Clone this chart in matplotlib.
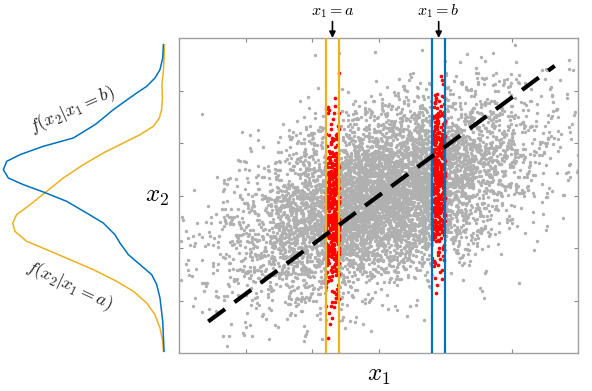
import numpy as np
import matplotlib
matplotlib.use("Agg")
import matplotlib.pyplot as plt

plt.rcParams['mathtext.fontset'] = 'cm'

# ---- data ----
# bivariate cloud summary: mean, std, correlation, count
cloud_mean = [0.05, 0.0]
cloud_std = [1.05, 0.91]
cloud_rho = 0.47
cloud_n = 7000

# bands x1 = a and x1 = b (x-ranges of the vertical strips)
band_a = [-0.79, -0.595]
band_b = [0.81, 1.00]

# dashed line endpoints (x1, x2)
line_x = [-2.56, 2.65]
line_y = [-2.40, 2.47]

# conditional densities (left panel): x2 position and relative density
blue_y = [2.873, 2.619, 2.397, 2.238, 2.079, 1.952, 1.794, 1.635, 1.476, 1.349,
          1.095, 0.937, 0.778, 0.651, 0.492, 0.333, 0.206, 0.067, -0.111,
          -0.333, -0.524, -0.746, -0.905, -1.127, -1.317, -1.508, -1.698,
          -1.952, -2.397, -2.968]
blue_d = [0.010, 0.014, 0.031, 0.062, 0.113, 0.175, 0.247, 0.319, 0.381, 0.432,
          0.566, 0.751, 0.895, 0.977, 0.998, 0.967, 0.874, 0.751, 0.607,
          0.484, 0.381, 0.309, 0.278, 0.226, 0.154, 0.082, 0.051,
          0.031, 0.014, 0.006]
orange_y = [2.873, 2.619, 2.365, 2.111, 1.857, 1.635, 1.476, 1.317, 1.159, 1.0,
            0.810, 0.587, 0.333, 0.079, -0.175, -0.365, -0.524, -0.683, -0.873,
            -1.032, -1.222, -1.413, -1.635, -1.825, -2.048, -2.270, -2.524,
            -2.778, -2.968]
orange_d = [0.0, 0.006, 0.010, 0.019, 0.016, 0.021, 0.035, 0.072, 0.154, 0.257,
            0.381, 0.504, 0.628, 0.730, 0.833, 0.916, 0.940, 0.926, 0.854,
            0.730, 0.586, 0.442, 0.298, 0.195, 0.113, 0.062, 0.031,
            0.014, 0.010]

ORANGE = '#EDB120'
BLUE = '#0072BD'
GRAY = '#B0B0B0'

# ---- sample the cloud ----
rng = np.random.default_rng(7)
cov = [[cloud_std[0] ** 2, cloud_rho * cloud_std[0] * cloud_std[1]],
       [cloud_rho * cloud_std[0] * cloud_std[1], cloud_std[1] ** 2]]
pts = rng.multivariate_normal(cloud_mean, cov, size=cloud_n)
px, py = pts[:, 0], pts[:, 1]
in_a = (px > band_a[0]) & (px < band_a[1])
in_b = (px > band_b[0]) & (px < band_b[1])
in_band = in_a | in_b

fig = plt.figure(figsize=(5.92, 3.91), dpi=100)
ax = fig.add_axes([179 / 592, 1 - 353 / 391, 399 / 592, 315 / 391])
ax.set_xlim(-3, 3)
ax.set_ylim(-3, 3)

ax.scatter(px[~in_band], py[~in_band], s=6, c=GRAY, linewidths=0, zorder=1)
ax.scatter(px[in_band], py[in_band], s=7, c='#FF0000', linewidths=0, zorder=2)

for xv in band_a:
    ax.axvline(xv, color=ORANGE, lw=1.6, zorder=3)
for xv in band_b:
    ax.axvline(xv, color=BLUE, lw=1.6, zorder=3)

dl, = ax.plot(line_x, line_y, color='black', lw=3, zorder=4,
              solid_capstyle='butt', dash_capstyle='butt')
dl.set_dashes((5, 2.8))

ax.set_xticks([-2, -1, 0, 1, 2])
ax.set_yticks([-2, -1, 0, 1, 2])
ax.set_xticklabels([])
ax.set_yticklabels([])
ax.tick_params(direction='in', length=3, width=0.8, color='#888888',
               top=True, right=True)
for sp in ax.spines.values():
    sp.set_color('#A0A0A0')
    sp.set_linewidth(1.0)

ax.set_xlabel('$x_1$', fontsize=18, labelpad=4)
ax.set_ylabel('$x_2$', fontsize=18, rotation=0, labelpad=12, va='center')

# annotations
for xc, lab in [(np.mean(band_a), '$x_1 = a$'), (np.mean(band_b), '$x_1 = b$')]:
    ax.annotate('', xy=(xc, 1.0), xycoords=('data', 'axes fraction'),
                xytext=(xc, 1.052), textcoords=('data', 'axes fraction'),
                arrowprops=dict(arrowstyle='-|>', color='black', lw=1.2,
                                mutation_scale=9, shrinkA=0, shrinkB=0))
    ax.text(xc, 1.058, lab, transform=ax.get_xaxis_transform(),
            ha='center', va='bottom', fontsize=11.5)

# ---- left panel: conditional densities ----
axl = fig.add_axes([0, 1 - 353 / 391, 165 / 592, 315 / 391])
axl.set_ylim(-3, 3)
axl.set_xlim(1.0185, 0)
axl.axis('off')
axl.plot(orange_d, orange_y, color=ORANGE, lw=1.1, solid_joinstyle='round')
axl.plot(blue_d, blue_y, color=BLUE, lw=1.1, solid_joinstyle='round')

fig.text(72 / 592, 1 - 110 / 391, r'$f(x_2|x_1 = b)$', rotation=24,
         ha='center', va='center', fontsize=13, color='#222222')
fig.text(69 / 592, 1 - 285 / 391, r'$f(x_2|x_1 = a)$', rotation=-25,
         ha='center', va='center', fontsize=13, color='#222222')

fig.savefig('out.png', dpi=100)
